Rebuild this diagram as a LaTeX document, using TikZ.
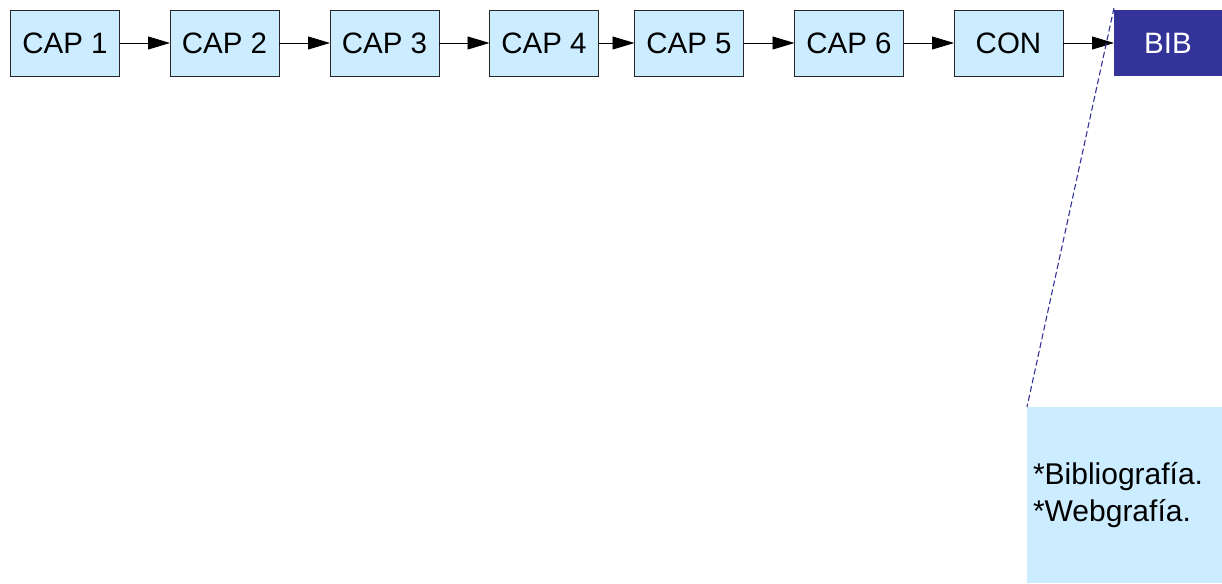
\documentclass[tikz,border=0pt]{standalone}
\usepackage{fontspec}
\setmainfont{Liberation Sans}
\usetikzlibrary{arrows.meta}
\definecolor{lightblue}{HTML}{CCECFF}
\definecolor{navy}{HTML}{333399}
\begin{document}
\begin{tikzpicture}[x=1pt,y=-1pt,
  capbox/.style={draw=black!85, line width=0.9pt, fill=lightblue, minimum width=109pt, minimum height=66pt, inner sep=0pt, outer sep=0pt, font=\fontsize{29.5}{35}\selectfont},
  bibbox/.style={fill=navy, text=white, minimum width=108pt, minimum height=66pt, inner sep=0pt, outer sep=0pt, font=\fontsize{29.5}{35}\selectfont},
  notebox/.style={fill=lightblue, minimum width=195pt, minimum height=176pt, text width=183pt, inner sep=6pt, outer sep=0pt, align=left, font=\fontsize{30}{37}\selectfont},
  link/.style={draw=black, line width=0.9pt, -{Triangle[length=22pt,width=13pt]}},
  callout/.style={draw=navy, line width=1.1pt, dash pattern=on 6pt off 3pt}]
\useasboundingbox (0,0) rectangle (1222,583);
\node[capbox] (c1) at (65,43) {CAP 1};
\node[capbox] (c2) at (224.5,43) {CAP 2};
\node[capbox] (c3) at (384.5,43) {CAP 3};
\node[capbox] (c4) at (544,43) {CAP 4};
\node[capbox] (c5) at (689,43) {CAP 5};
\node[capbox] (c6) at (849,43) {CAP 6};
\node[capbox] (con) at (1008.5,43) {CON};
\node[bibbox] (bib) at (1168,43) {BIB};
\node[notebox] (note) at (1124.5,495) {*Bibliografía.\\\relax *Webgrafía.};
\draw[link] (c1) -- (c2);
\draw[link] (c2) -- (c3);
\draw[link] (c3) -- (c4);
\draw[link] (c4) -- (c5);
\draw[link] (c5) -- (c6);
\draw[link] (c6) -- (con);
\draw[link] (con) -- (bib);
\coordinate (ctop) at (1114,8);
\draw[callout] (ctop) -- (note.north west);
\end{tikzpicture}
\end{document}
